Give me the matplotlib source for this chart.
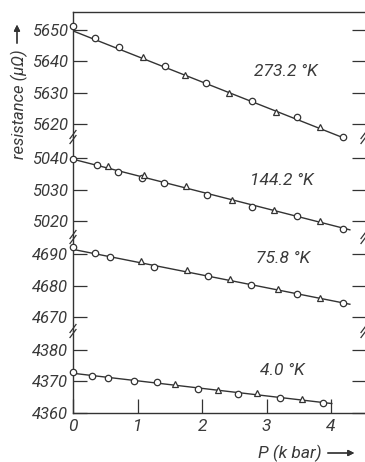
import matplotlib.pyplot as plt
from matplotlib.gridspec import GridSpec
from matplotlib.lines import Line2D

plt.rcParams['font.family'] = ['Roboto', 'DejaVu Sans']
plt.rcParams['font.style'] = 'italic'

INK = '#333333'
TXT = '#3a3a3a'

# measured points, pressure in kbar, resistance in micro-ohm
labels = ['273.2 °K', '144.2 °K', '75.8 °K', '4.0 °K']

p_273 = [0.0, 0.34, 0.71, 1.09, 1.42, 1.74, 2.06, 2.41, 2.77, 3.15, 3.47, 3.83, 4.18]
r_273 = [5651.2, 5647.4, 5644.6, 5641.2, 5638.6, 5635.5, 5633.0, 5629.8, 5627.4, 5623.9, 5622.2, 5619.2, 5615.8]
m_273 = ['o', 'o', 'o', '^', 'o', '^', 'o', '^', 'o', '^', 'o', '^', 'o']

p_144 = [0.0, 0.37, 0.55, 0.70, 1.07, 1.10, 1.41, 1.75, 2.08, 2.46, 2.77, 3.11, 3.47, 3.83, 4.18]
r_144 = [5039.9, 5037.8, 5037.5, 5035.7, 5033.9, 5034.6, 5032.3, 5031.2, 5028.2, 5026.8, 5024.6, 5023.5, 5021.6, 5020.0, 5017.7]
m_144 = ['o', 'o', '^', 'o', 'o', '^', 'o', '^', 'o', '^', 'o', '^', 'o', '^', 'o']

p_758 = [0.0, 0.34, 0.58, 1.05, 1.26, 1.77, 2.09, 2.43, 2.76, 3.17, 3.47, 3.83, 4.18]
r_758 = [4692.1, 4690.4, 4689.0, 4687.9, 4686.0, 4684.9, 4683.1, 4682.1, 4680.2, 4678.8, 4677.3, 4676.0, 4674.4]
m_758 = ['o', 'o', 'o', '^', 'o', '^', 'o', '^', 'o', '^', 'o', '^', 'o']

p_40 = [0.0, 0.30, 0.55, 0.95, 1.30, 1.58, 1.93, 2.24, 2.56, 2.85, 3.21, 3.55, 3.87]
r_40 = [4372.9, 4371.7, 4371.0, 4370.1, 4369.7, 4369.1, 4367.6, 4367.3, 4366.0, 4366.2, 4364.8, 4364.4, 4363.3]
m_40 = ['o', 'o', 'o', 'o', 'o', '^', 'o', '^', 'o', '^', 'o', '^', 'o']

# straight lines drawn through each set
fit_p = [[0.0, 4.30], [0.0, 4.29], [0.0, 4.29], [0.0, 4.01]]
fit_r = [[5649.6, 5614.8], [5039.7, 5017.3], [4691.5, 4674.1], [4372.6, 4363.0]]

# visible resistance window of each segment of the broken axis
ylims = [(5615.9, 5655.6), (5015.0, 5046.7), (4665.6, 4695.4), (4360.0, 4386.0)]
yticks = [[5620, 5630, 5640, 5650], [5020, 5030, 5040], [4670, 4680, 4690], [4360, 4370, 4380]]
xticks = [0, 1, 2, 3, 4]

series = [(p_273, r_273, m_273), (p_144, r_144, m_144),
          (p_758, r_758, m_758), (p_40, r_40, m_40)]
label_pos = [(3.29, 5636.6), (3.24, 5033.0), (3.26, 4688.7), (3.24, 4373.6)]

fig = plt.figure(figsize=(3.65, 4.62), dpi=100)
gs = GridSpec(4, 1, figure=fig, height_ratios=[y[1] - y[0] for y in ylims],
              hspace=0, left=73 / 365, right=366 / 365, top=1 - 12 / 462, bottom=1 - 413 / 462)

for i, (p, r, m) in enumerate(series):
    ax = fig.add_subplot(gs[i])
    ax.set_facecolor('none')
    ax.plot(fit_p[i], fit_r[i], color=INK, lw=1.0, zorder=2)
    for x, y, mk in zip(p, r, m):
        ax.plot(x, y, marker=mk, ms=4.6 if mk == 'o' else 4.8, mfc='white', mec=INK,
                mew=0.9, ls='none', clip_on=False, zorder=3)
    ax.set_xlim(0, 4.54)
    ax.set_ylim(*ylims[i])
    ax.set_yticks(yticks[i])
    ax.set_yticklabels([str(t) for t in yticks[i]])
    ax.tick_params(axis='y', direction='in', length=10, width=0.9, color=INK,
                   labelsize=12, labelcolor=TXT, right=True, pad=3.5)
    ax.text(*label_pos[i], labels[i], fontsize=12.5, color=TXT, ha='center', va='center')
    for side in ['left', 'right', 'top', 'bottom']:
        ax.spines[side].set_color(INK)
        ax.spines[side].set_linewidth(1.0)
    if i > 0:
        ax.spines['top'].set_visible(False)
    if i < 3:
        ax.spines['bottom'].set_visible(False)
        ax.tick_params(axis='x', bottom=False, labelbottom=False)
    else:
        ax.set_xticks(xticks)
        ax.set_xticklabels([str(t) for t in xticks])
        ax.tick_params(axis='x', direction='in', length=10, width=0.9, color=INK,
                       labelsize=12.5, labelcolor=TXT, pad=4)

# break marks on both vertical spines
W, H = 365, 462
for i in range(3):
    yb = 1 - [137, 237, 331][i] / H
    for xs in [73, 364]:
        for dy in [-2.5, 2.5]:
            fig.add_artist(Line2D([(xs - 3) / W, (xs + 3) / W],
                                  [yb + (dy - 4) / H, yb + (dy + 4) / H],
                                  color=INK, lw=0.9))

fig.text(19 / W, 1 - 104 / H, 'resistance (μΩ)', rotation=90, fontsize=12,
         color=TXT, ha='center', va='center')
fig.add_artist(plt.annotate('', xy=(17 / W, 1 - 22 / H), xytext=(17 / W, 1 - 46 / H),
                            xycoords='figure fraction',
                            arrowprops=dict(arrowstyle='-|>', color=INK, lw=0.9,
                                            mutation_scale=9)))
fig.text(290 / W, 1 - 453 / H, 'P (k bar)', fontsize=12.5, color=TXT,
         ha='center', va='center')
fig.add_artist(plt.annotate('', xy=(357 / W, 1 - 453 / H), xytext=(325 / W, 1 - 453 / H),
                            xycoords='figure fraction',
                            arrowprops=dict(arrowstyle='-|>', color=INK, lw=0.9,
                                            mutation_scale=9)))

fig.savefig('out.png', dpi=100)
